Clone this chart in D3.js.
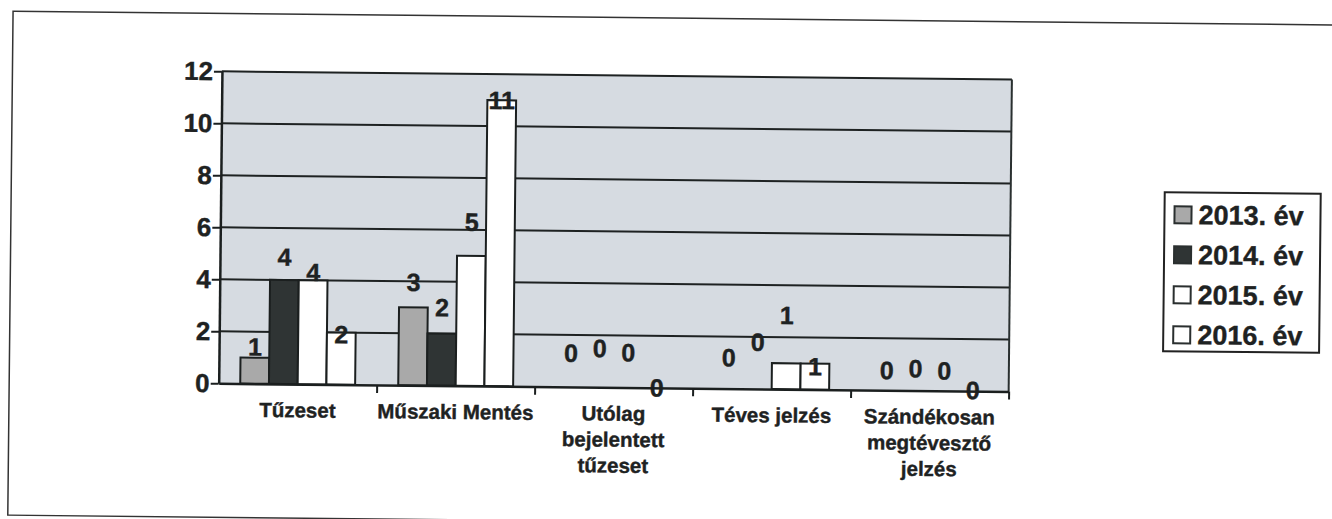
<!DOCTYPE html>
<html>
<head>
<meta charset="utf-8">
<script src="https://cdn.jsdelivr.net/npm/d3@7.9.0/dist/d3.min.js"></script>
<style>
  html, body { margin: 0; padding: 0; background: #fff; }
  svg { display: block; font-family: "Liberation Sans", Arial, sans-serif; font-weight: bold; }
  svg text { stroke: #1e2222; stroke-width: 0.4px; }
</style>
</head>
<body>
<svg id="chart" width="1332" height="519"></svg>
<script>
// categories, split into the lines they are printed on
const categories = ["Tűzeset", "Műszaki Mentés", "Utólag bejelentett tűzeset", "Téves jelzés", "Szándékosan megtévesztő jelzés"];
const categoryLines = [["Tűzeset"], ["Műszaki Mentés"], ["Utólag", "bejelentett", "tűzeset"], ["Téves jelzés"], ["Szándékosan", "megtévesztő", "jelzés"]];

const seriesNames = ["2013. év", "2014. év", "2015. év", "2016. év"];
const values2013 = [1, 3, 0, 0, 0];
const values2014 = [4, 2, 0, 0, 0];
const values2015 = [4, 5, 0, 1, 0];
const values2016 = [2, 11, 0, 1, 0];
const yTicks = [0, 2, 4, 6, 8, 10, 12];

const seriesValues = [values2013, values2014, values2015, values2016];
const fills = ["#a9a9a9", "#2f3434", "#ffffff", "#ffffff"];

// labels in the original were dragged around by hand; pixel nudges per category/series
const labelNudge = [
  [-11, -23, -8, 2],
  [-25, -26, -34, 0],
  [-34, -39, -35, 0],
  [-31, -47, -48, 3],
  [-20, -22, -20, -1]
];

const svg = d3.select("#chart");
// the scanned original is slightly rotated
const root = svg.append("g").attr("transform", "rotate(0.6, 666, 260)");

// outer frame
root.append("rect")
  .attr("x", 10.5).attr("y", 18)
  .attr("width", 1345).attr("height", 504)
  .attr("fill", "none").attr("stroke", "#333").attr("stroke-width", 1.5);

const plotLeft = 220, plotRight = 1010, plotTop = 76, plotBottom = 388;

const x0 = d3.scaleBand().domain(categories).range([plotLeft, plotRight]);
const bw = x0.bandwidth();
const barW = bw / 5.5;
const x1 = d3.scaleBand().domain(seriesNames).range([barW * 0.75, bw - barW * 0.75]);
const y = d3.scaleLinear().domain([0, 12]).range([plotBottom, plotTop]);

// plot background
root.append("rect")
  .attr("x", plotLeft).attr("y", plotTop)
  .attr("width", plotRight - plotLeft).attr("height", plotBottom - plotTop)
  .attr("fill", "#d6dbe1");

// gridlines
root.append("g")
  .selectAll("line")
  .data(yTicks.filter(d => d > 0))
  .join("line")
  .attr("x1", plotLeft).attr("x2", plotRight)
  .attr("y1", d => y(d)).attr("y2", d => y(d))
  .attr("stroke", "#1e2222").attr("stroke-width", 2);

// right border of plot
root.append("line")
  .attr("x1", plotRight).attr("x2", plotRight).attr("y1", plotTop).attr("y2", plotBottom)
  .attr("stroke", "#2a3030").attr("stroke-width", 2);

// bars
const groups = root.append("g")
  .selectAll("g")
  .data(categories)
  .join("g")
  .attr("transform", d => `translate(${x0(d)},0)`);

groups.selectAll("rect")
  .data((d, ci) => seriesNames.map((s, si) => ({ s, si, ci, v: seriesValues[si][ci] })).filter(d => d.v > 0))
  .join("rect")
  .attr("x", d => x1(d.s))
  .attr("y", d => y(d.v))
  .attr("width", x1.bandwidth())
  .attr("height", d => y(0) - y(d.v))
  .attr("fill", d => fills[d.si])
  .attr("stroke", "#1b1f1f")
  .attr("stroke-width", 2);

// y axis
const yAxis = root.append("g")
  .attr("transform", `translate(${plotLeft},0)`)
  .call(d3.axisLeft(y).tickValues(yTicks).tickSize(8).tickPadding(1).tickSizeOuter(0));
yAxis.select(".domain").attr("stroke", "#1b1f1f").attr("stroke-width", 2.5);
yAxis.selectAll(".tick line").attr("stroke", "#1b1f1f").attr("stroke-width", 2);
yAxis.selectAll(".tick text")
  .attr("fill", "#1e2222")
  .style("font-size", "26px").style("font-weight", "bold")
  .style("font-family", "'Liberation Sans', Arial, sans-serif");

// x axis with ticks between categories
const xb = d3.scaleLinear().domain([0, categories.length]).range([plotLeft, plotRight]);
const xAxis = root.append("g")
  .attr("transform", `translate(0,${plotBottom})`)
  .call(d3.axisBottom(xb).tickValues(d3.range(1, categories.length + 1)).tickFormat("").tickSize(8).tickSizeOuter(0));
xAxis.select(".domain").attr("stroke", "#1b1f1f").attr("stroke-width", 2.5);
xAxis.selectAll(".tick line").attr("stroke", "#1b1f1f").attr("stroke-width", 2);

// category labels
root.append("g")
  .selectAll("text")
  .data(categories)
  .join("text")
  .attr("x", d => x0(d) + bw / 2)
  .attr("y", 414)
  .attr("text-anchor", "middle")
  .attr("fill", "#1e2222")
  .style("font-size", "20.5px")
  .selectAll("tspan")
  .data((d, i) => categoryLines[i])
  .join("tspan")
  .attr("x", function () { return d3.select(this.parentNode).attr("x"); })
  .attr("dy", (d, i) => i === 0 ? "0.35em" : "26px")
  .text(d => d);

// data labels
groups.selectAll("text.val")
  .data((d, ci) => seriesNames.map((s, si) => ({ s, si, ci, v: seriesValues[si][ci] })))
  .join("text")
  .attr("class", "val")
  .attr("x", d => x1(d.s) + x1.bandwidth() / 2)
  .attr("y", d => y(d.v) + labelNudge[d.ci][d.si])
  .attr("dy", "0.35em")
  .attr("text-anchor", "middle")
  .attr("fill", "#1e2222")
  .style("font-size", "25px")
  .text(d => d.v);

// legend
const legend = root.append("g").attr("transform", "translate(1164,187)");
legend.append("rect")
  .attr("width", 156).attr("height", 159)
  .attr("fill", "#fff").attr("stroke", "#222").attr("stroke-width", 2);
const items = legend.selectAll("g.item")
  .data(seriesNames)
  .join("g")
  .attr("class", "item")
  .attr("transform", (d, i) => `translate(10,${22 + i * 40})`);
items.append("rect")
  .attr("x", 0).attr("y", -8)
  .attr("width", 17).attr("height", 17)
  .attr("fill", (d, i) => fills[i])
  .attr("stroke", "#2a2f2f").attr("stroke-width", 2);
items.append("text")
  .attr("x", 24).attr("dy", "0.36em")
  .attr("fill", "#1e2222")
  .style("font-size", "27px")
  .text(d => d);
</script>
</body>
</html>
